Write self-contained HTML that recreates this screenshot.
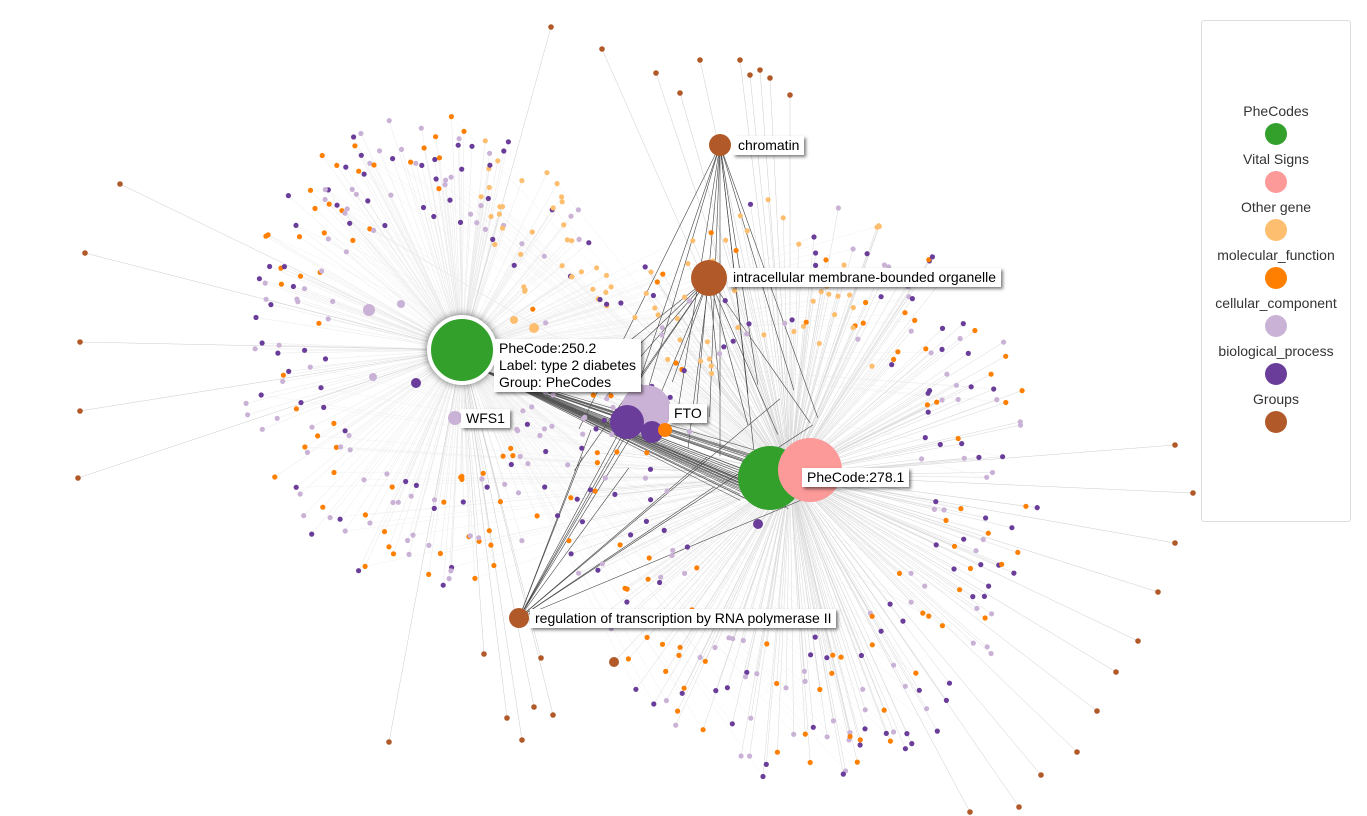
<!DOCTYPE html><html><head><meta charset="utf-8"><style>
body{margin:0;width:1367px;height:816px;overflow:hidden;background:#fff;font-family:"Liberation Sans",sans-serif}
svg{position:absolute;left:0;top:0}
.lbl{position:absolute;background:#fff;font-size:14px;color:#000;padding:1px 5px;box-shadow:2px 2px 3px rgba(0,0,0,.5);line-height:17px;white-space:nowrap}
#leg{position:absolute;left:1201px;top:20px;width:148px;height:500px;border:1px solid #ddd;border-radius:3px;background:#fff;text-align:center;font-size:14px;color:#333}
#leg div{height:48px}
#leg span{display:block;width:22px;height:22px;border-radius:50%;margin:4px auto 0}
</style></head><body>
<svg id="s" width="1367" height="816"></svg>
<div class="lbl" style="left:494px;top:339px">PheCode:250.2<br>Label: type 2 diabetes<br>Group: PheCodes</div>
<div class="lbl" style="left:461px;top:409px">WFS1</div>
<div class="lbl" style="left:669px;top:404px">FTO</div>
<div class="lbl" style="left:802px;top:468px">PheCode:278.1</div>
<div class="lbl" style="left:733px;top:136px">chromatin</div>
<div class="lbl" style="left:728px;top:268px">intracellular membrane-bounded organelle</div>
<div class="lbl" style="left:530px;top:609px">regulation of transcription by RNA polymerase II</div>
<div id="leg"><div style="height:82px"></div>
<div>PheCodes<span style="background:#33a02c"></span></div>
<div>Vital Signs<span style="background:#fb9a99"></span></div>
<div>Other gene<span style="background:#fdbf6f"></span></div>
<div>molecular_function<span style="background:#ff7f00"></span></div>
<div>cellular_component<span style="background:#cab2d6"></span></div>
<div>biological_process<span style="background:#6a3d9a"></span></div>
<div>Groups<span style="background:#b15928"></span></div>
</div>
<script>
var s=document.getElementById('s'),seed=7;function r(){seed=(seed*16807)%2147483647;return seed/2147483647}
var L='',N='';
function ln(a,b,c,d,col,w){L+='<line x1="'+a+'" y1="'+b+'" x2="'+c+'" y2="'+d+'" stroke="'+col+'" stroke-width="'+w+'"/>'}
function ci(x,y,rad,col,st){N+='<circle cx="'+x+'" cy="'+y+'" r="'+rad+'" fill="'+col+'"'+(st||'')+'/>'}
var A=[462,350],C=[790,475];
var cols=['#ff7f00','#cab2d6','#6a3d9a'];
for(var i=0;i<270;i++){var t=r()*6.283,k=0.55+r()*0.45;var x=430+Math.cos(t)*190*k,y=350+Math.sin(t)*240*k;
 var c=cols[Math.floor(r()*3)];if(x>480&&y<320&&r()<.7)c='#fdbf6f';ln(A[0],A[1],x,y,'#e8e8e8',0.5);if(r()<.3)ln(C[0],C[1],x,y,'#eee',0.4);ci(x.toFixed(1),y.toFixed(1),2.6,c)}
for(var i=0;i<320;i++){var t=r()*6.283,k=0.5+r()*0.5;var x=800+Math.cos(t)*240*k,y=490+Math.sin(t)*295*k;
 if(x<560)continue;var c=cols[Math.floor(r()*3)];if(y<380&&x<880&&r()<.6)c='#fdbf6f';ln(C[0],C[1],x,y,'#d8d8d8',0.5);if(r()<.3)ln(A[0],A[1],x,y,'#eee',0.4);ci(x.toFixed(1),y.toFixed(1),2.6,c)}
var g=[[551,27],[602,49],[120,184],[85,253],[80,342],[80,411],[78,478],[389,742],[522,740],[507,718],[534,707],[553,715],[484,654],[541,658],[614,662],[656,73],[680,93],[750,75],[770,78],[790,95],[1175,445],[1193,493],[1175,543],[1158,592],[1138,641],[1116,672],[1097,711],[1077,752],[1041,775],[1019,807],[970,812],[700,60],[740,60],[760,70]];
g.forEach(function(p){ln(p[0],p[1],p[0]<600?A[0]:C[0],p[0]<600?A[1]:C[1],'#ccc',0.5);ci(p[0],p[1],2.8,'#b15928')});
var hubs=[[720,145],[709,278],[519,618]];
for(var i=0;i<36;i++){var h=hubs[i%3];var x=560+r()*260,y=380+r()*120;ln(h[0],h[1],x,y,'#444',0.6)}
for(var i=0;i<35;i++){ln(A[0]+20,A[1]+20,740+r()*60,450+r()*60,'#555',0.6)}
ci(720,145,11,'#b15928');ci(709,278,18,'#b15928');ci(519,618,10,'#b15928');ci(614,662,5,'#b15928');
ci(369,310,6,'#cab2d6');ci(401,304,4,'#cab2d6');ci(373,377,4,'#cab2d6');ci(416,383,5,'#6a3d9a');ci(455,418,7,'#cab2d6');
ci(534,328,5,'#fdbf6f');ci(514,320,4,'#fdbf6f');
ci(646,410,25,'#cab2d6');ci(627,422,17,'#6a3d9a');ci(652,432,11,'#6a3d9a');ci(665,430,7,'#ff7f00');
ci(770,478,32,'#33a02c');ci(810,470,32,'#fb9a99');ci(758,524,5,'#6a3d9a');
ci(462,350,33,'#33a02c',' stroke="#fff" stroke-width="4" style="filter:drop-shadow(0 0 4px rgba(0,0,0,.6))"');
s.innerHTML=L+N;
</script>
</body></html>
